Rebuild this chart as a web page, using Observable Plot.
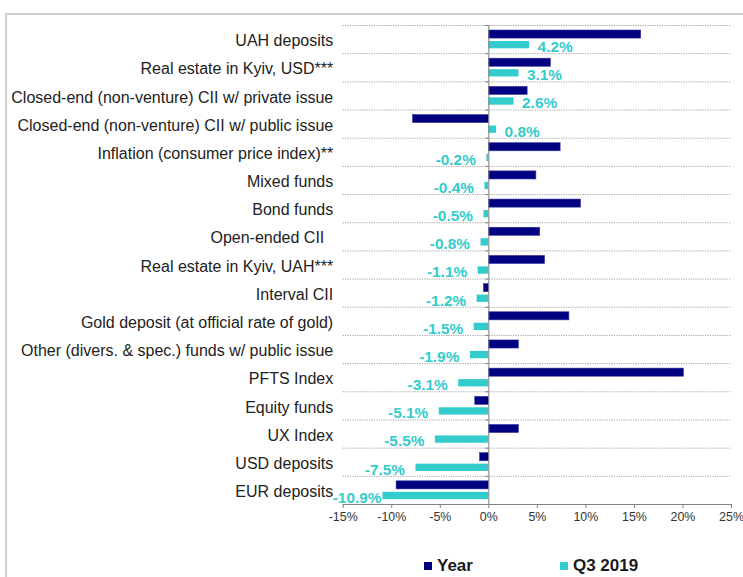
<!DOCTYPE html>
<html><head><meta charset="utf-8">
<script src="https://cdn.jsdelivr.net/npm/d3@7"></script>
<script src="https://cdn.jsdelivr.net/npm/@observablehq/plot@0.6"></script>
<style>
body{margin:0;background:#fff;}
#wrap{position:relative;width:743px;height:577px;overflow:hidden;font-family:"Liberation Sans",Arial,sans-serif;}
#frame{position:absolute;left:5px;top:13px;width:800px;height:700px;border-top:2px solid #d0d0d0;border-left:2px solid #d0d0d0;}
#chart{position:absolute;left:0;top:0;}
#legend{position:absolute;top:556px;left:424px;display:flex;align-items:center;font-weight:bold;font-size:17px;color:#1a1a1a;}
.item{display:flex;align-items:center;line-height:20px;}
.sw{width:8px;height:8px;margin-right:5px;}
</style></head>
<body><div id="wrap"><div id="frame"></div><div id="chart"></div><div id="legend"></div></div>
<script>
const categories = [
  "UAH deposits",
  "Real estate in Kyiv, USD***",
  "Closed-end (non-venture) CII w/ private issue",
  "Closed-end (non-venture) CII w/ public issue",
  "Inflation (consumer price index)**",
  "Mixed funds",
  "Bond funds",
  "Open-ended CII\u00a0\u00a0",
  "Real estate in Kyiv, UAH***",
  "Interval CII",
  "Gold deposit (at official rate of gold)",
  "Other (divers. & spec.) funds w/ public issue",
  "PFTS Index",
  "Equity funds",
  "UX Index",
  "USD deposits",
  "EUR deposits"
];
const yearValues = [15.7, 6.4, 4.0, -7.8, 7.4, 4.9, 9.5, 5.3, 5.8, -0.5, 8.3, 3.1, 20.1, -1.4, 3.1, -0.9, -9.5];
const q3Values = [4.2, 3.1, 2.6, 0.8, -0.2, -0.4, -0.5, -0.8, -1.1, -1.2, -1.5, -1.9, -3.1, -5.1, -5.5, -7.5, -10.9];
const seriesNames = ["Year", "Q3 2019"];
const seriesColors = ["#000080", "#33cccc"];
const xTicks = [-15, -10, -5, 0, 5, 10, 15, 20, 25];

const W = 743, H = 530, mt = 25, mb = 26, ml = 342.7, mr = 12;
const bw = (H - mt - mb) / categories.length;
const rows = categories.map((c, i) => ({category: c, year: yearValues[i], q3: q3Values[i]}));
const fmt = v => v.toFixed(1) + "%";
const labelStyle = {y: "category", x: "q3", text: d => fmt(d.q3), dy: 7.5, lineAnchor: "middle", fill: seriesColors[1], fontWeight: "bold", fontSize: 15.4};

const plot = Plot.plot({
  width: W, height: H,
  marginTop: mt, marginBottom: mb, marginLeft: ml, marginRight: mr,
  style: {fontFamily: "'Liberation Sans', Arial, sans-serif", background: "transparent"},
  x: {domain: [-15, 25]},
  y: {type: "band", domain: categories, padding: 0, round: false},
  marks: [
    Plot.ruleY(categories, {y: d => d, dy: -bw / 2, stroke: "#a0a0a0", strokeDasharray: "1.2,1.2", strokeWidth: 1}),
    Plot.ruleY(categories, {y: d => d, dy: -bw / 2, x1: 0, x2: 0, insetLeft: -3, stroke: "#808080"}),
    Plot.barX(rows, {y: "category", x: "year", insetTop: 5, insetBottom: bw - 13.1, fill: seriesColors[0], stroke: "#3a3aa0", strokeWidth: 0.6}),
    Plot.barX(rows, {y: "category", x: "q3", insetTop: 16, insetBottom: bw - 23.3, fill: seriesColors[1]}),
    Plot.ruleX([0], {stroke: "#808080"}),
    Plot.ruleY([categories[categories.length - 1]], {dy: bw / 2, stroke: "#808080"}),
    Plot.axisX({ticks: xTicks, tickFormat: d => d + "%", tickSize: 4, tickPadding: 4, stroke: "#808080", fill: "#333", fontSize: 12.4, label: null}),
    Plot.axisY({tickSize: 0, tickPadding: 10, fontSize: 16, fill: "#222", label: null, dy: 1.5}),
    Plot.text(rows.filter(d => d.q3 >= 0), {...labelStyle, textAnchor: "start", dx: 8}),
    Plot.text(rows.filter(d => d.q3 < 0 && d.q3 > -10), {...labelStyle, textAnchor: "end", dx: -11}),
    Plot.text(rows.filter(d => d.q3 <= -10), {...labelStyle, textAnchor: "end", dx: -1.5})
  ]
});
document.getElementById("chart").appendChild(plot);

const legend = document.getElementById("legend");
seriesNames.forEach((name, i) => {
  const item = document.createElement("div");
  item.className = "item";
  if (i > 0) item.style.marginLeft = "87px";
  const sw = document.createElement("span");
  sw.className = "sw";
  sw.style.background = seriesColors[i];
  const t = document.createElement("span");
  t.textContent = name;
  item.appendChild(sw);
  item.appendChild(t);
  legend.appendChild(item);
});
</script>
</body></html>
